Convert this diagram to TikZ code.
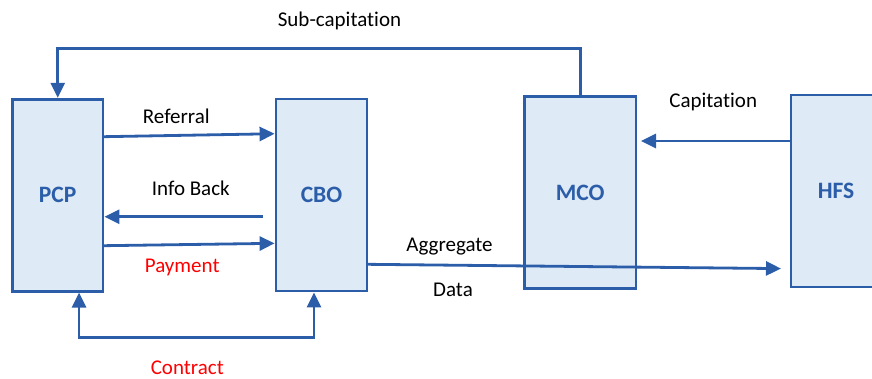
\documentclass[tikz,border=0pt]{standalone}
\usepackage{fontspec}
\setmainfont{Carlito}[Ligatures=NoCommon]
\usetikzlibrary{arrows.meta,calc}
\definecolor{lineblue}{HTML}{2B5DA8}
\definecolor{boxfill}{HTML}{DEEAF6}
\definecolor{flowred}{HTML}{FF0000}
\begin{document}
\begin{tikzpicture}[x=1pt,y=-1pt,
  entity/.style={draw=lineblue, fill=boxfill, line width=2.8pt,
    minimum width=#1, minimum height=192pt, inner sep=0pt, outer sep=0pt,
    font=\fontsize{23.5}{28}\selectfont\bfseries, text=lineblue},
  flow/.style={draw=lineblue, line width=2.8pt, -{Triangle[length=15pt,width=14pt]}},
  lbl/.style={font=\fontsize{21}{25}\selectfont, anchor=base, inner sep=0pt},
  redlbl/.style={lbl, text=flowred}]

\useasboundingbox (0,0) rectangle (872,378);
\clip (0,0) rectangle (872,378);

% the four parties
\node[entity=90.7pt]  (pcp) at (57.7,195.2) {PCP};
\node[entity=91pt]    (cbo) at (321.5,195)  {CBO};
\node[entity=111.7pt] (mco) at (580.2,192.7) {MCO};
\node[entity=90pt]    (hfs) at (836,190.9)  {HFS};

% PCP <-> CBO flows
\draw[flow, shorten >=1.4pt] ($(pcp.north east)+(0,37.5)$) -- ($(cbo.north west)+(0,34.7)$);
\draw[flow, shorten >=1.4pt] ($(cbo.north west)+(-13,117.7)$) coordinate (infotail)
  -- ($(pcp.north east)+(0,117.5)$);
\draw[flow, shorten >=1.4pt] ($(pcp.north east)+(0,146.5)$) -- ($(cbo.north west)+(0,144.3)$);
\draw[flow, {Triangle[length=15pt,width=14pt]}-{Triangle[length=15pt,width=14pt]},
  shorten <=1.4pt, shorten >=1.4pt]
  ($(pcp.south west)+(66.7,0)$) -- ++(0,46.3) -| ($(cbo.south west)+(38,0)$);

% MCO -> PCP sub-capitation
\draw[flow, shorten >=1.4pt] (mco.north) -- ++(0,-48.2) -| (pcp.north);

% HFS -> MCO capitation
\draw[flow, shorten >=5pt] ($(hfs.north west)+(0,46.1)$) -- ($(mco.north east)+(0,44.3)$);

% CBO -> HFS aggregate data
\draw[flow, shorten >=10pt] ($(cbo.north east)+(0,165.3)$) -- ($(hfs.north west)+(0,173.8)$);

% flow labels
\node[lbl] (lsub)  at (339.5,26)    {Sub-capitation};
\node[lbl] (lref)  at (176.3,123.3) {Referral};
\node[lbl] (linfo) at (190.8,195.3) {Info Back};
\node[redlbl] (lpay) at (182.2,272.3) {Payment};
\node[redlbl] (lcon) at (187.3,374)   {Contract};
\node[lbl] (lagg)  at (449.5,251)   {Aggregate};
\node[lbl] (ldata) at (453,296)     {Data};
\node[lbl] (lcap)  at (713.2,107.3) {Capitation};
\end{tikzpicture}
\end{document}
